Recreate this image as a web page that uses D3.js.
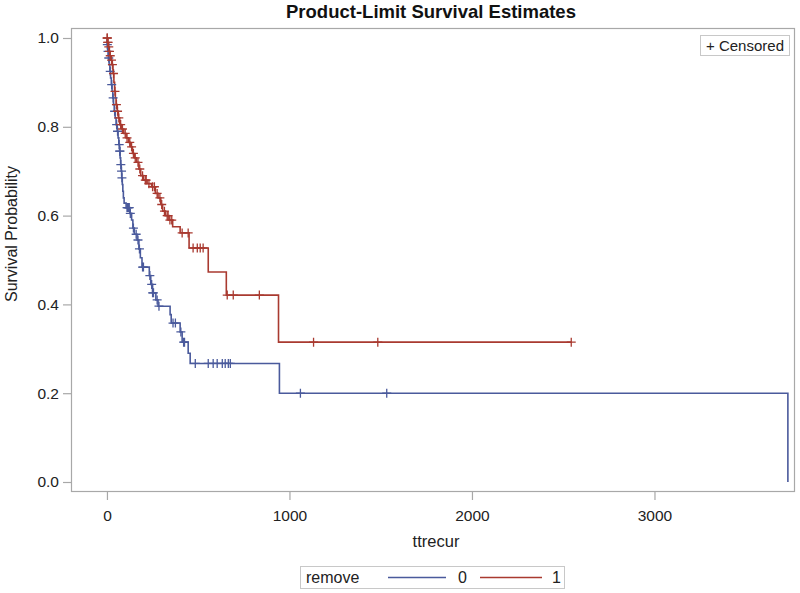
<!DOCTYPE html>
<html>
<head>
<meta charset="utf-8">
<script src="https://cdn.jsdelivr.net/npm/d3@7"></script>
<style>
  html, body { margin: 0; padding: 0; background: #fff; }
  svg { display: block; font-family: "Liberation Sans", Arial, sans-serif; }
</style>
</head>
<body>
<div id="chart"></div>
<script>
// ---- Data ----
const title = "Product-Limit Survival Estimates";
const xLabel = "ttrecur";
const yLabel = "Survival Probability";
const groupName = "remove";
const groups = ["0", "1"];
const xTicks = [0, 1000, 2000, 3000];
const yTicks = [0.0, 0.2, 0.4, 0.6, 0.8, 1.0];

// remove = 0 : event times and survival after each event
const blueTimes = [1, 4, 8, 12, 16, 20, 24, 28, 32, 36, 40, 45, 50, 56, 61, 65, 69, 72, 75, 78, 81, 84, 87, 90, 94, 105, 125, 135, 142, 150, 165, 175, 183, 192, 232, 240, 250, 268, 280, 346, 352, 401, 412, 445, 456, 945, 3731];
const blueSurv  = [0.985, 0.97, 0.955, 0.94, 0.925, 0.91, 0.895, 0.88, 0.865, 0.85, 0.835, 0.82, 0.805, 0.79, 0.775, 0.76, 0.745, 0.73, 0.715, 0.70, 0.685, 0.67, 0.655, 0.64, 0.628, 0.618, 0.605, 0.59, 0.572, 0.558, 0.545, 0.525, 0.505, 0.484, 0.465, 0.445, 0.426, 0.41, 0.396, 0.377, 0.358, 0.338, 0.315, 0.29, 0.267, 0.20, 0.0];
const blueCensor = [2, 6, 10, 18, 26, 34, 42, 53, 58, 67, 70, 71, 76, 80, 82, 110, 113, 116, 119, 122, 128, 145, 160, 170, 178, 195, 200, 235, 245, 250, 255, 275, 285, 362, 375, 405, 420, 425, 484, 555, 582, 604, 632, 648, 665, 676, 1060, 1533];
const blueEnd = 3731;

// remove = 1
const redTimes = [3, 8, 11, 16, 22, 27, 33, 38, 42, 46, 50, 56, 62, 70, 80, 92, 105, 118, 128, 140, 150, 162, 175, 185, 200, 220, 245, 265, 280, 295, 305, 320, 340, 360, 401, 450, 555, 654, 940];
const redSurv  = [0.99, 0.98, 0.97, 0.96, 0.95, 0.94, 0.92, 0.90, 0.88, 0.865, 0.85, 0.835, 0.82, 0.805, 0.795, 0.785, 0.775, 0.765, 0.755, 0.74, 0.73, 0.72, 0.705, 0.69, 0.68, 0.672, 0.665, 0.65, 0.64, 0.625, 0.61, 0.60, 0.59, 0.575, 0.561, 0.527, 0.473, 0.421, 0.315];
const redCensor = [1, 2, 4, 6, 10, 14, 18, 25, 30, 36, 44, 52, 58, 65, 75, 85, 100, 110, 125, 135, 145, 155, 170, 180, 195, 210, 215, 230, 250, 260, 275, 290, 300, 315, 330, 335, 345, 355, 412, 445, 472, 495, 511, 527, 659, 692, 835, 1132, 1484, 2544];
const redEnd = 2544;

const colors = ["#4a5a9c", "#a93a30"];

// ---- Layout ----
const W = 800, H = 593;
const frame = { left: 71, top: 28, right: 795, bottom: 492 };

const svg = d3.select("#chart").append("svg")
  .attr("width", W).attr("height", H);

const x = d3.scaleLinear().domain([-197, 3770]).range([frame.left, frame.right]);
const y = d3.scaleLinear().domain([0, 1]).range([482, 38]);

// title
svg.append("text")
  .attr("x", 431).attr("y", 18)
  .attr("text-anchor", "middle")
  .attr("font-weight", "bold")
  .attr("font-size", 18.5)
  .attr("fill", "#111")
  .text(title);

// frame
svg.append("rect")
  .attr("x", frame.left + 0.5).attr("y", frame.top + 0.5)
  .attr("width", frame.right - frame.left - 1)
  .attr("height", frame.bottom - frame.top - 1)
  .attr("fill", "none").attr("stroke", "#a8a8a8").attr("stroke-width", 1.2);

// axes
const xAxis = d3.axisBottom(x).tickValues(xTicks).tickFormat(d3.format("d")).tickSize(8).tickSizeOuter(0);
const gx = svg.append("g").attr("transform", `translate(0,${frame.bottom})`).call(xAxis);
gx.select(".domain").remove();
gx.selectAll("line").attr("stroke", "#a8a8a8").attr("stroke-width", 1.2);
gx.selectAll("text").attr("font-size", 15.5).attr("fill", "#222")
  .attr("font-family", "'Liberation Sans', Arial, sans-serif").attr("dy", "1.15em");

const yAxis = d3.axisLeft(y).tickValues(yTicks).tickFormat(d3.format(".1f")).tickSize(8).tickSizeOuter(0);
const gy = svg.append("g").attr("transform", `translate(${frame.left},0)`).call(yAxis);
gy.select(".domain").remove();
gy.selectAll("line").attr("stroke", "#a8a8a8").attr("stroke-width", 1.2);
gy.selectAll("text").attr("font-size", 15.5).attr("fill", "#222")
  .attr("font-family", "'Liberation Sans', Arial, sans-serif").attr("x", -12);

// axis labels
svg.append("text")
  .attr("x", 436).attr("y", 547)
  .attr("text-anchor", "middle").attr("font-size", 16.5).attr("fill", "#222")
  .text(xLabel);
svg.append("text")
  .attr("transform", "translate(17,234) rotate(-90)")
  .attr("text-anchor", "middle").attr("font-size", 16).attr("fill", "#222")
  .text(yLabel);

// curves
function survAt(times, surv, t) {
  let s = 1;
  for (let i = 0; i < times.length; i++) { if (times[i] <= t) s = surv[i]; else break; }
  return s;
}
const series = [
  { times: blueTimes, surv: blueSurv, censor: blueCensor, end: blueEnd, color: colors[0] },
  { times: redTimes, surv: redSurv, censor: redCensor, end: redEnd, color: colors[1] }
];
const line = d3.line().x(d => x(d[0])).y(d => y(d[1])).curve(d3.curveStepAfter);
const plot = svg.append("g");
series.forEach(s => {
  const pts = [[0, 1]];
  s.times.forEach((t, i) => pts.push([t, s.surv[i]]));
  if (pts[pts.length - 1][0] < s.end) pts.push([s.end, pts[pts.length - 1][1]]);
  plot.append("path").attr("d", line(pts))
    .attr("fill", "none").attr("stroke", s.color).attr("stroke-width", 1.6);
});
series.forEach(s => {
  const sym = d3.symbol().type(d3.symbolCross);
  plot.selectAll(null).data(s.censor).enter().append("path")
    .attr("transform", c => `translate(${x(c)},${y(survAt(s.times, s.surv, c))})`)
    .attr("d", () => {
      const h = 4.5;
      return `M${-h},0H${h}M0,${-h}V${h}`;
    })
    .attr("fill", "none").attr("stroke", s.color).attr("stroke-width", 1.3);
});

// "+ Censored" inset legend
svg.append("rect").attr("x", 700.5).attr("y", 35.5).attr("width", 89).attr("height", 20)
  .attr("fill", "#fff").attr("stroke", "#c8c8c8");
svg.append("text").attr("x", 745).attr("y", 51).attr("text-anchor", "middle")
  .attr("font-size", 15).attr("fill", "#222").text("+ Censored");

// bottom legend
const lg = svg.append("g");
lg.append("rect").attr("x", 300.5).attr("y", 566.5).attr("width", 264).attr("height", 22)
  .attr("fill", "#fff").attr("stroke", "#c8c8c8");
lg.append("text").attr("x", 306).attr("y", 583).attr("font-size", 16).attr("fill", "#222").text(groupName);
const legItems = [
  { x1: 388, x2: 446, tx: 458, label: groups[0], color: colors[0] },
  { x1: 480, x2: 542, tx: 552, label: groups[1], color: colors[1] }
];
legItems.forEach(d => {
  lg.append("line").attr("x1", d.x1).attr("x2", d.x2).attr("y1", 577.5).attr("y2", 577.5)
    .attr("stroke", d.color).attr("stroke-width", 1.6);
  lg.append("text").attr("x", d.tx).attr("y", 583).attr("font-size", 16).attr("fill", "#222").text(d.label);
});
</script>
</body>
</html>
